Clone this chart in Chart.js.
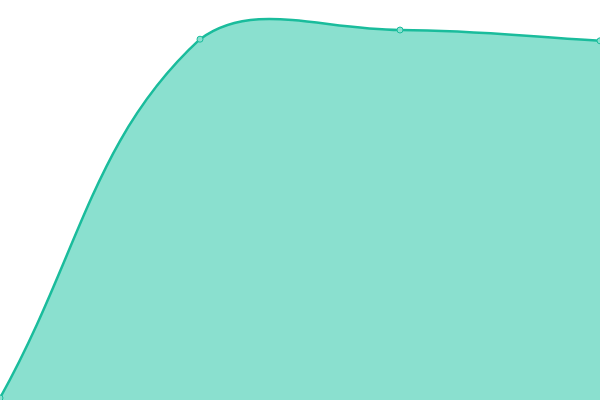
<!DOCTYPE html>
<html>
<head>
<meta charset="utf-8">
<script src="https://cdn.jsdelivr.net/npm/chart.js@4"></script>
<style>
  html, body { margin: 0; padding: 0; background: #fff; }
  #wrap { width: 600px; height: 400px; }
</style>
</head>
<body>
<div id="wrap"><canvas id="areaChart"></canvas></div>
<script>
const labels = ['A', 'B', 'C', 'D'];
const values = [0.5, 90.2, 92.5, 89.8];

document.addEventListener("DOMContentLoaded", () => {
    const ctx = document.getElementById("areaChart").getContext("2d");
    new Chart(ctx, {
        type: 'line',
        data: {
            labels: labels,
            datasets: [{
                data: values,
                fill: 'origin',
                backgroundColor: '#8ae0cf',
                borderColor: '#1abc9c',
                borderWidth: 2.5,
                tension: 0.4,
                pointRadius: 3,
                pointBorderWidth: 1,
                pointBackgroundColor: '#8ae0cf',
                pointBorderColor: '#1abc9c'
            }]
        },
        options: {
            responsive: true,
            maintainAspectRatio: false,
            animation: false,
            layout: { padding: 0, autoPadding: false },
            plugins: {
                legend: { display: false },
                tooltip: { enabled: false }
            },
            scales: {
                x: { display: false },
                y: { display: false, min: 0, max: 100 }
            }
        }
    });
});
</script>
</body>
</html>
